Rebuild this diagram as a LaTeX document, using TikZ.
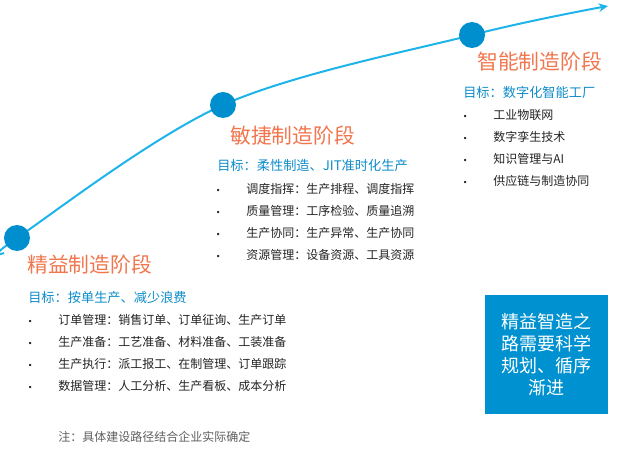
\documentclass[tikz,border=0pt]{standalone}
\usepackage{fontspec}
\setmainfont{Noto Sans CJK SC}
\newfontfamily\dotfont{DejaVu Sans}
\usetikzlibrary{positioning,arrows.meta,backgrounds}
\definecolor{stagec}{RGB}{241,118,78}
\definecolor{goalc}{RGB}{14,140,202}
\definecolor{dotc}{RGB}{0,143,206}
\definecolor{linec}{RGB}{30,180,235}
\definecolor{boxc}{RGB}{0,146,208}
\definecolor{itemc}{RGB}{35,35,35}
\definecolor{notec}{RGB}{95,95,95}
\tikzset{
  stage/.style    ={font=\fontsize{15.6pt}{18pt}\selectfont, text=stagec,
                    inner sep=0pt, anchor=west},
  goal/.style     ={font=\fontsize{9.9pt}{12pt}\selectfont, text=goalc,
                    inner sep=0pt, anchor=west},
  itm/.style      ={font=\fontsize{9pt}{11pt}\selectfont, text=itemc,
                    inner sep=0pt, text height=11.45pt, text depth=4.65pt},
  milestone/.style={circle, fill=dotc, minimum size=19.5pt, inner sep=0pt},
  road/.style     ={draw=linec, line width=1.5pt,
                    -{Stealth[length=7pt, width=6.5pt]}},
  motto/.style    ={fill=boxc, text=white, align=center, inner sep=0pt,
                    minimum width=92.25pt, minimum height=89.25pt,
                    font=\fontsize{13.5pt}{16.5pt}\selectfont},
  note/.style     ={font=\fontsize{9pt}{11pt}\selectfont, text=notec,
                    inner sep=0pt, anchor=west},
}
\newcommand{\blt}{\makebox[22.8pt][l]{\dotfont\fontsize{6pt}{6pt}\selectfont •}}

\begin{document}
\begin{tikzpicture}[x=0.75pt, y=-0.75pt]
  \useasboundingbox (0,0) rectangle (643,452);

  % milestones on the road
  \coordinate (start) at (4,253);
  \coordinate (finish) at (608,6);
  \node[milestone] (k1) at (17,238) {};
  \node[milestone] (k2) at (223,105) {};
  \node[milestone] (k3) at (472,35) {};
  \begin{scope}[on background layer]
    \draw[road] plot[smooth, tension=0.55] coordinates {(start) (k1) (k2) (k3) (finish)};
  \end{scope}

  % stage 1
  \node[stage] (t1) at (27,265) {精益制造阶段};
  \node[goal] (g1) at (28,297) {目标：按单生产、减少浪费};
  \node[itm, anchor=west] (a1) at (27.6,320) {\blt 订单管理：销售订单、订单征询、生产订单};
  \node[itm, below=0pt of a1.south west, anchor=north west] (a2) {\blt 生产准备：工艺准备、材料准备、工装准备};
  \node[itm, below=0pt of a2.south west, anchor=north west] (a3) {\blt 生产执行：派工报工、在制管理、订单跟踪};
  \node[itm, below=0pt of a3.south west, anchor=north west] (a4) {\blt 数据管理：人工分析、生产看板、成本分析};

  % stage 2
  \node[stage] (t2) at (230,136) {敏捷制造阶段};
  \node[goal] (g2) at (217,166) {目标：柔性制造、JIT准时化生产};
  \node[itm, anchor=west] (b1) at (215.6,189) {\blt 调度指挥：生产排程、调度指挥};
  \node[itm, below=0pt of b1.south west, anchor=north west] (b2) {\blt 质量管理：工序检验、质量追溯};
  \node[itm, below=0pt of b2.south west, anchor=north west] (b3) {\blt 生产协同：生产异常、生产协同};
  \node[itm, below=0pt of b3.south west, anchor=north west] (b4) {\blt 资源管理：设备资源、工具资源};

  % stage 3
  \node[stage] (t3) at (477,62) {智能制造阶段};
  \node[goal] (g3) at (463,92) {目标：数字化智能工厂};
  \node[itm, anchor=west] (c1) at (462.6,115) {\blt 工业物联网};
  \node[itm, below=0pt of c1.south west, anchor=north west] (c2) {\blt 数字孪生技术};
  \node[itm, below=0pt of c2.south west, anchor=north west] (c3) {\blt 知识管理与AI};
  \node[itm, below=0pt of c3.south west, anchor=north west] (c4) {\blt 供应链与制造协同};

  \node[motto] (box) at (546.5,355) {精益智造之\\路需要科学\\规划、循序\\渐进};
  \node[note] (nb) at (58,437) {注：具体建设路径结合企业实际确定};
\end{tikzpicture}
\end{document}
